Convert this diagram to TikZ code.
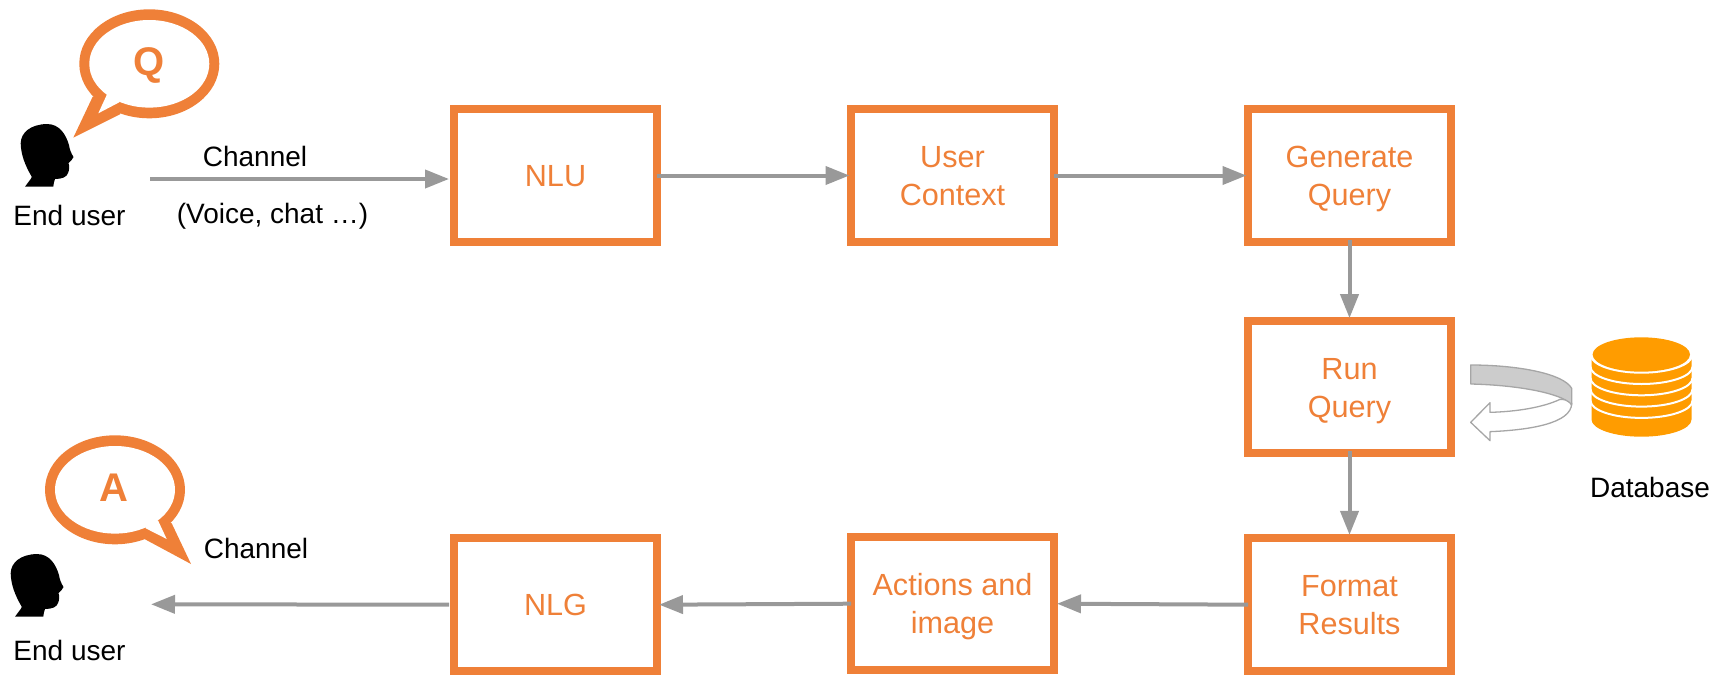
\documentclass[tikz,border=0pt]{standalone}
\usepackage{fontspec}
\setmainfont{Liberation Sans}
\usetikzlibrary{arrows.meta}
\definecolor{boxorange}{HTML}{EF8038}
\definecolor{arrowgray}{HTML}{999999}
\definecolor{dborange}{HTML}{FF9C00}
\definecolor{bandgray}{HTML}{CCCCCC}
\definecolor{bandline}{HTML}{A6A6A6}
\newcommand{\bxline}[1]{\rule{0pt}{22.4pt}\smash{#1}}
\tikzset{
  stepbox/.style={draw=boxorange,line width=8pt,fill=white,outer sep=0pt,inner sep=0pt,
    minimum width=203pt,minimum height=133pt,text=boxorange,align=center,
    font=\fontsize{30.6}{38}\selectfont},
  flow/.style={draw=arrowgray,line width=4pt,-{Triangle[length=24pt,width=18pt]}},
  lbl/.style={anchor=base,text=black,inner sep=0pt,font=\fontsize{28}{34}\selectfont},
  bubbletext/.style={anchor=base,text=boxorange,inner sep=0pt,font=\fontsize{40}{48}\selectfont\bfseries}
}
\begin{document}
\begin{tikzpicture}[x=1pt,y=1pt,yscale=-1]
\useasboundingbox (0,0) rectangle (1717,675);
% boxes
\node[stepbox] (nlu) at (555.5,175.5) {\bxline{NLU}};
\node[stepbox] (ctx) at (952.5,175.5) {\bxline{User}\\\bxline{Context}};
\node[stepbox] (gen) at (1349.5,175.5) {\bxline{Generate}\\\bxline{Query}};
\node[stepbox,minimum height=132.3pt] (run) at (1349.5,387) {\bxline{Run}\\\bxline{Query}};
\node[stepbox] (fmt) at (1349.5,604.7) {\bxline{Format}\\\bxline{Results}};
\node[stepbox] (act) at (952.5,603.7) {\bxline{Actions and}\\\bxline{image}};
\node[stepbox] (nlg) at (555.5,604.7) {\bxline{NLG}};
% free ends
\coordinate (chin) at (150,179);
\coordinate (chout) at (151,604.3);
% connectors
\draw[flow,shorten >=5pt] (chin) -- (chin -| nlu.west);
\draw[flow,shorten >=1.5pt] (nlu.east) -- (ctx.west);
\draw[flow,shorten >=1.5pt] (ctx.east) -- (gen.west);
\draw[flow,shorten <=-2pt,shorten >=2.7pt] (gen.south) -- (run.north);
\draw[flow,shorten <=-1.7pt,shorten >=3.3pt] (run.south) -- (fmt.north);
\draw[flow,shorten >=3pt] (fmt.west) -- (act.east);
\draw[flow,shorten >=2pt] (act.west) -- (nlg.east);
\draw[flow,shorten <=5pt] (nlg.west) -- (chout);
% heads
\foreach \hx/\hy in {0/0,-10/430}{
  \begin{scope}[shift={(\hx,\hy)}]
    \fill[black] (25,186.7) .. controls (29,181) and (32,178) .. (31.7,176.7)
      .. controls (25,165) and (21,155) .. (20.7,143.3)
      .. controls (21,132) and (31,124.5) .. (46.7,124)
      .. controls (60,124) and (66,135) .. (69,145)
      .. controls (69.5,149) and (71,153) .. (73.5,157)
      .. controls (73,160) and (70,161) .. (68.5,163)
      .. controls (69.5,166) and (69.5,170) .. (68,173)
      .. controls (67,177) and (62,179) .. (55,179)
      .. controls (54,182) and (53.5,184) .. (53.3,186.7) -- cycle;
  \end{scope}
}
% Q bubble
\fill[boxorange] (149.3,63.8) ellipse [x radius=70pt,y radius=54.5pt];
\fill[boxorange] (92.7,96.7) -- (73.3,137.7) -- (120,114.3) -- (130,90) -- cycle;
\fill[white] (149.3,63.8) ellipse [x radius=60pt,y radius=43.8pt];
\fill[white] (106.7,95) -- (98.3,113.3) -- (119.3,102.3) -- (125,85) -- cycle;
\node[bubbletext] (q) at (149,75) {Q};
% A bubble
\fill[boxorange] (115,489.8) ellipse [x radius=70pt,y radius=54.5pt];
\fill[boxorange] (171.7,523.3) -- (191,564) -- (145,539.3) -- (135,515) -- cycle;
\fill[white] (115,489.8) ellipse [x radius=60pt,y radius=43.8pt];
\fill[white] (158.3,521) -- (166.7,539) -- (145.7,528.3) -- (140,510) -- cycle;
\node[bubbletext] (a) at (114.3,501) {A};
% labels
\node[lbl] (user1) at (69.5,225) {End user};
\node[lbl] (user2) at (69.5,660) {End user};
\node[lbl] (ch1) at (255,166) {Channel};
\node[lbl] (ch1b) at (272.5,223) {(Voice, chat …)};
\node[lbl] (ch2) at (256,558) {Channel};
\node[lbl] (dbl) at (1650,497) {Database};
% database
\fill[dborange] (1591.5,354.5) -- (1591.5,419.5) arc[start angle=180,end angle=0,x radius=50pt,y radius=17.2pt] -- (1691.5,354.5) -- cycle;
\fill[white] (1590,352) rectangle (1693,358);
\fill[white] (1641.5,355.5) ellipse [x radius=51.5pt,y radius=18.2pt];
\foreach \cy in {366.8,378.1,389.4,400.7}{
  \draw[white,line width=2pt] (1590.5,\cy) arc[start angle=180,end angle=0,x radius=51pt,y radius=17.2pt];
}
\fill[dborange] (1641.3,354.5) ellipse [x radius=48.7pt,y radius=17.2pt];
% round arrow
\begin{scope}[shift={(1430,320)},x=0.33333pt,y=0.33333pt]
\filldraw[fill=white,draw=bandline,line width=1.3pt,line join=round]
  (390,238) .. controls (340,262) and (260,275) .. (180,277) -- (180,248) -- (122,307) -- (180,362) -- (180,335)
  .. controls (300,330) and (425,310) .. (425,250) -- (415,240) -- cycle;
\filldraw[fill=bandgray,draw=bandline,line width=1.3pt,line join=round]
  (122,135) .. controls (260,135) and (400,160) .. (425,205) -- (425,255)
  .. controls (422,250) and (418,247) .. (415,245)
  .. controls (370,215) and (250,195) .. (122,192) -- cycle;
\end{scope}
\end{tikzpicture}
\end{document}
